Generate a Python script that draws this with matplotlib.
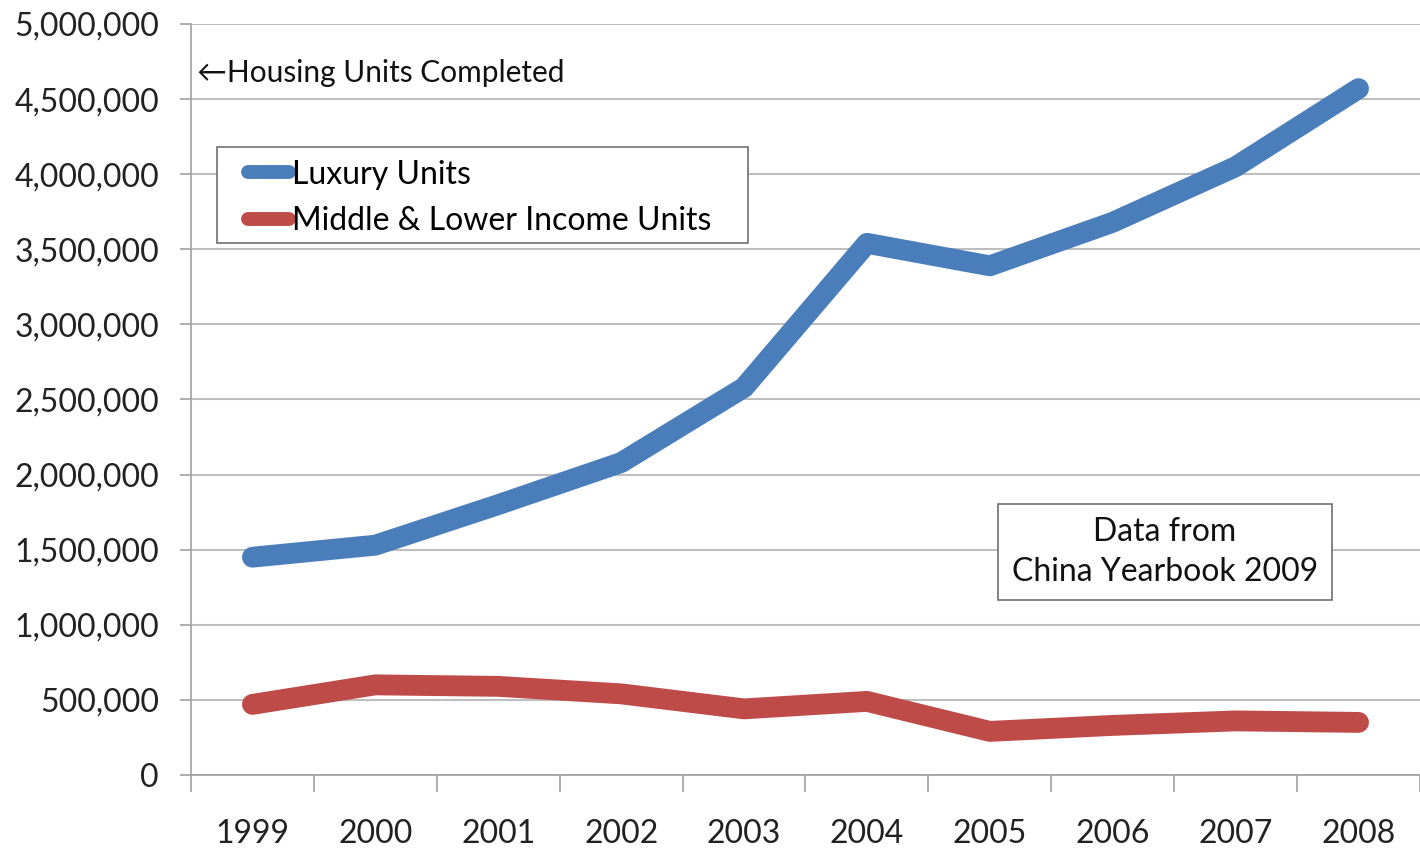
import matplotlib
matplotlib.use("Agg")
import matplotlib.pyplot as plt
from matplotlib.patches import Rectangle
from matplotlib.ticker import FuncFormatter, FixedLocator

years = ["1999", "2000", "2001", "2002", "2003", "2004", "2005", "2006", "2007", "2008"]
luxury = [1450000, 1530000, 1800000, 2080000, 2580000, 3540000, 3390000, 3680000, 4050000, 4570000]
middle_lower = [470000, 600000, 590000, 540000, 440000, 490000, 290000, 330000, 360000, 350000]

plt.rcParams["font.family"] = ["Lato", "DejaVu Sans"]

fig = plt.figure(figsize=(14.2, 8.49), dpi=100)
ax = fig.add_axes([0.1345, 0.0872, 0.8655, 0.8845])

x = list(range(len(years)))
ax.plot(x, luxury, color="#4A7EBB", lw=15, solid_capstyle="round",
        solid_joinstyle="round", label="Luxury Units")
ax.plot(x, middle_lower, color="#BE4B48", lw=15, solid_capstyle="round",
        solid_joinstyle="round", label="Middle & Lower Income Units")

ax.set_xlim(-0.5, len(years) - 0.5)
ax.set_ylim(0, 5000000)
ax.set_yticks(range(0, 5000001, 500000))
ax.yaxis.set_major_formatter(FuncFormatter(lambda v, p: "{:,.0f}".format(v)))
ax.grid(axis="y", color="#BEBEBE", lw=1.5)
ax.set_axisbelow(True)

# category ticks sit between the years, labels centred on them
ax.xaxis.set_major_locator(FixedLocator([i - 0.5 for i in range(len(years) + 1)]))
ax.xaxis.set_major_formatter(FuncFormatter(lambda v, p: ""))
ax.xaxis.set_minor_locator(FixedLocator(x))
ax.set_xticklabels(years, minor=True)
ax.tick_params(axis="x", which="major", length=12, color="#A0A0A0", width=1.2)
ax.tick_params(axis="x", which="minor", length=0, labelsize=23, pad=32, labelcolor="#222222")
ax.tick_params(axis="y", length=8, color="#A0A0A0", width=1.2, labelsize=23,
               labelcolor="#222222", pad=15)

for s in ["top", "right"]:
    ax.spines[s].set_visible(False)
ax.spines["left"].set_color("#A0A0A0")
ax.spines["bottom"].set_color("#A0A0A0")
ax.spines["left"].set_linewidth(1.2)
ax.spines["bottom"].set_linewidth(1.2)

ax.text(0.005, 0.935, "\u2190Housing Units Completed", transform=ax.transAxes,
        fontsize=21.5, va="center", ha="left", color="#111111")

# legend box drawn separately so its padding can follow the original
ax.add_patch(Rectangle((0.0212, 0.7084), 0.432, 0.1278, transform=ax.transAxes,
                       fc="white", ec="#707070", lw=1.2, zorder=4))
leg = ax.legend(loc="upper left", bbox_to_anchor=(0.046, 0.8195), fontsize=23,
                handlelength=1.3, handletextpad=0.1, borderpad=0,
                labelspacing=0.52, frameon=False, borderaxespad=0)
leg.set_zorder(5)
for h in leg.get_lines():
    h.set_linewidth(10)

ax.text(0.7925, 0.297, "Data from\nChina Yearbook 2009", transform=ax.transAxes,
        fontsize=23, ha="center", va="center", linespacing=1.4, color="#111111",
        bbox=dict(boxstyle="square,pad=0.42", fc="white", ec="#707070", lw=1.2))

plt.savefig("out.png")
